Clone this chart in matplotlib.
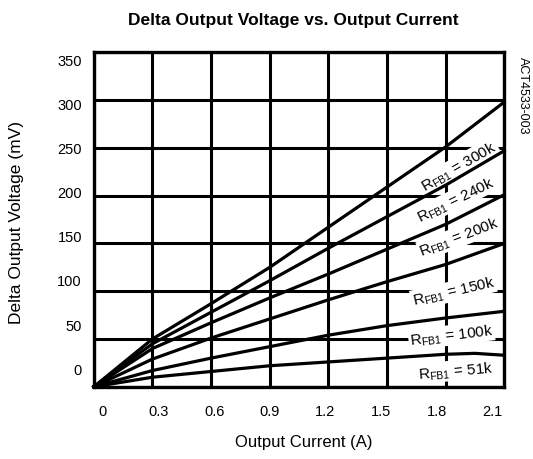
import matplotlib
matplotlib.use('Agg')
from matplotlib import pyplot as plt

plt.rcParams['font.family'] = ['Liberation Sans', 'DejaVu Sans']
plt.rcParams['mathtext.fontset'] = 'custom'
plt.rcParams['mathtext.rm'] = 'Liberation Sans'

# Output current (A)
current = [0, 0.3, 0.6, 0.9, 1.2, 1.5, 1.8, 2.1]
current_51k = [0, 0.3, 0.6, 0.9, 1.2, 1.5, 1.8, 1.95, 2.1]

# Delta output voltage (mV) per feedback resistor
dv_300k = [0, 50, 87, 125, 167, 209, 251, 298]
dv_240k = [0, 45, 78, 111, 145, 178, 211, 247]
dv_200k = [0, 40, 67, 93, 118, 144, 170, 201]
dv_150k = [0, 29, 51, 71, 91, 110, 128, 150]
dv_100k = [0, 17, 30, 42, 54, 64, 72, 79]
dv_51k = [0, 10, 16, 22, 26, 30, 34, 35, 33]

series = [
    (current, dv_300k, '300k', 1.87, 231, 30),
    (current, dv_240k, '240k', 1.85, 196, 26),
    (current, dv_200k, '200k', 1.87, 157, 21),
    (current, dv_150k, '150k', 1.84, 100, 13),
    (current, dv_100k, '100k', 1.83, 54, 7),
    (current_51k, dv_51k, '51k', 1.85, 17, 5),
]

x_ticks = [0, 0.3, 0.6, 0.9, 1.2, 1.5, 1.8, 2.1]
x_labels = ['0', '0.3', '0.6', '0.9', '1.2', '1.5', '1.8', '2.1']
y_ticks = [0, 50, 100, 150, 200, 250, 300, 350]
y_labels = ['0', '50', '100', '150', '200', '250', '300', '350']

fig = plt.figure(figsize=(5.33, 4.6), dpi=100)
ax = fig.add_axes([0.176, 0.157, 0.770, 0.727])
ax.set_xlim(0, 2.1)
ax.set_ylim(0, 350)
ax.set_xticks(x_ticks)
ax.set_yticks(y_ticks)
ax.set_xticklabels([])
ax.set_yticklabels([])
ax.tick_params(length=0)
ax.grid(True, color='black', linewidth=2.2, zorder=1)
ax.set_axisbelow(True)
for s in ax.spines.values():
    s.set_linewidth(2.4)
    s.set_zorder(5)

for xs, ys, name, lx, ly, rot in series:
    ax.plot(xs, ys, color='black', linewidth=2.3, zorder=4, clip_on=False)
    ax.text(lx, ly, r'R$_{\mathregular{FB1}}$ = ' + name, fontsize=11,
            rotation=rot, rotation_mode='anchor', ha='center', va='center',
            zorder=3,
            bbox=dict(facecolor='white', edgecolor='none', pad=1.0))

# tick labels as placed in the original figure
n = len(x_labels)
for i, lab in enumerate(x_labels):
    fx = 0.022 + i * (0.971 - 0.022) / (n - 1)
    ax.text(fx, -0.072, lab, transform=ax.transAxes, ha='center', va='center',
            fontsize=10.5)
n = len(y_labels)
for i, lab in enumerate(y_labels):
    fy = 0.051 + i * (0.975 - 0.051) / (n - 1)
    ax.text(-0.029, fy, lab, transform=ax.transAxes, ha='right', va='center',
            fontsize=10.5)

fig.text(293 / 533, 1 - 20 / 460, 'Delta Output Voltage vs. Output Current',
         ha='center', va='center', fontsize=12.5, fontweight='bold')
fig.text(304 / 533, 1 - 443 / 460, 'Output Current (A)', ha='center',
         va='center', fontsize=12)
fig.text(17 / 533, 1 - 222 / 460, 'Delta Output Voltage (mV)', ha='center',
         va='center', fontsize=12.5, rotation=90)
fig.text(523 / 533, 1 - 57 / 460, 'ACT4533-003', ha='center', va='top',
         fontsize=9, rotation=270)

plt.savefig('out.png', dpi=100, facecolor='white')
plt.close()
